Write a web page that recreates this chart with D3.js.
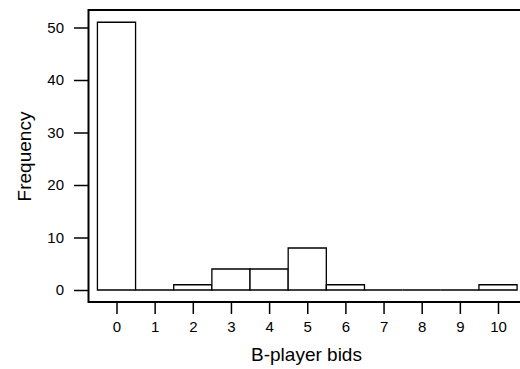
<!DOCTYPE html>
<html>
<head>
<meta charset="utf-8">
<script src="https://cdn.jsdelivr.net/npm/d3@7"></script>
<style>
  body { margin: 0; background: #fff; }
  svg { display: block; font-family: "Liberation Sans", Arial, sans-serif; }
</style>
</head>
<body>
<svg></svg>
<script>
var width = 520;
var height = 369;

// histogram of B-player bids
var bids = [0, 1, 2, 3, 4, 5, 6, 7, 8, 9, 10];
var counts = [51, 0, 1, 4, 4, 8, 1, 0, 0, 0, 1];
var yTicks = [0, 10, 20, 30, 40, 50];

var box = {left: 88.5, top: 10, bottom: 302, right: 530};

var xScale = d3.scaleLinear()
    .domain([0, 10])
    .range([116.5, 498]);

var yScale = d3.scaleLinear()
    .domain([0, 50])
    .range([290, 27.5]);

var svg = d3.select("svg")
    .attr("width", width)
    .attr("height", height);

svg.append("rect")
    .attr("width", width)
    .attr("height", height)
    .attr("fill", "#fff");

// bars as closed paths, so empty bins still show a line on the baseline
svg.selectAll("path.bar")
    .data(bids)
    .enter()
    .append("path")
    .classed("bar", true)
    .attr("d", (d, i) => {
        var x0 = xScale(d - 0.5), x1 = xScale(d + 0.5);
        var y0 = yScale(0), y1 = yScale(counts[i]);
        return `M${x0},${y0}V${y1}H${x1}V${y0}Z`;
    })
    .attr("fill", "#fff")
    .attr("stroke", "#000")
    .attr("stroke-width", 1.3);

// box (right side runs off the picture)
svg.append("path")
    .attr("d", `M${box.right},${box.top}H${box.left}V${box.bottom}H${box.right}`)
    .attr("fill", "none")
    .attr("stroke", "#000")
    .attr("stroke-width", 2);

var xAxis = d3.axisBottom(xScale)
    .tickValues(bids)
    .tickSize(12)
    .tickSizeOuter(0)
    .tickPadding(7);

var yAxis = d3.axisLeft(yScale)
    .tickValues(yTicks)
    .tickSize(14.5)
    .tickSizeOuter(0)
    .tickPadding(10);

svg.append("g")
    .classed("x-axis", true)
    .attr("transform", `translate(0, ${box.bottom})`)
    .call(xAxis);

svg.append("g")
    .classed("y-axis", true)
    .attr("transform", `translate(${box.left}, 0)`)
    .call(yAxis);

svg.selectAll(".x-axis .domain, .y-axis .domain").remove();
svg.selectAll(".tick line")
    .attr("stroke", "#000")
    .attr("stroke-width", 1.5);
svg.selectAll(".tick text")
    .attr("fill", "#000")
    .attr("font-size", 15)
    .attr("font-family", "Liberation Sans, Arial, sans-serif");

svg.append("text")
    .attr("x", 306.5)
    .attr("y", 361)
    .style("text-anchor", "middle")
    .style("font-size", "19px")
    .text("B-player bids");

svg.append("text")
    .attr("transform", "rotate(-90)")
    .attr("x", -156.5)
    .attr("y", 31)
    .style("text-anchor", "middle")
    .style("font-size", "19px")
    .text("Frequency");
</script>
</body>
</html>
